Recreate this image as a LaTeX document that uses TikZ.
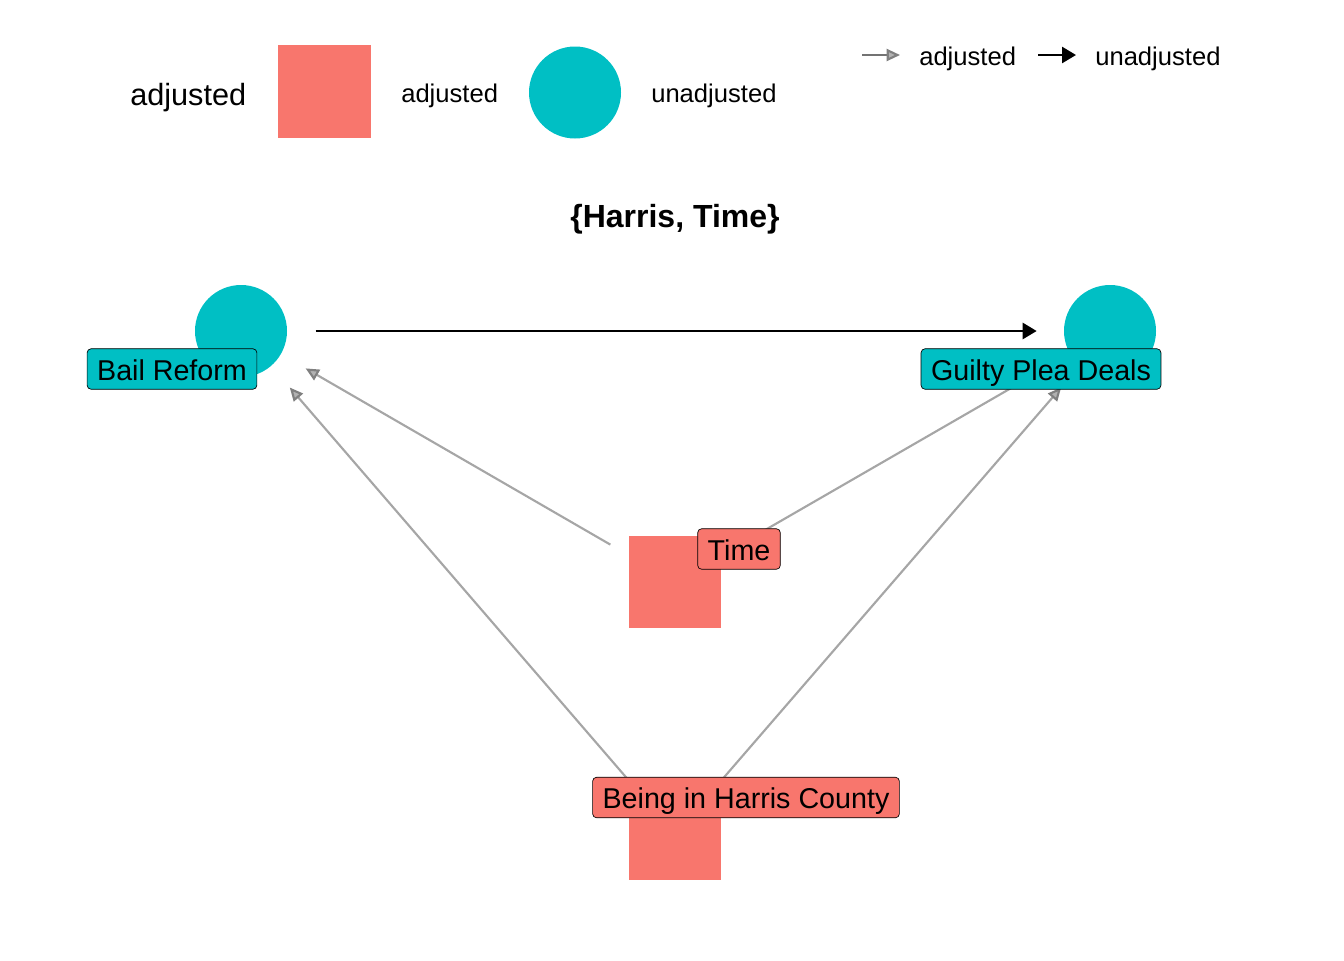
\documentclass[tikz,border=0pt]{standalone}
\usepackage{fontspec}
\setmainfont{Liberation Sans}
\usetikzlibrary{arrows.meta, positioning}
\definecolor{adjcol}{HTML}{F8766D}
\definecolor{unadjcol}{HTML}{00BFC4}

\begin{document}
\begin{tikzpicture}[x=0.75pt, y=-0.75pt,
    sqnode/.style={fill=adjcol, minimum size=69.5pt, inner sep=0pt},
    cirnode/.style={circle, fill=unadjcol, minimum size=69pt, inner sep=0pt},
    lbl/.style={draw=black, line width=0.5pt, rounded corners=3pt, inner xsep=7.5pt,
        text height=16.9pt, text depth=0pt, inner ysep=6.75pt,
        font=\fontsize{21.5}{24}\selectfont},
    legtext/.style={anchor=base west, inner sep=0pt, font=\fontsize{19.2}{22}\selectfont},
    adjedge/.style={draw=black!35, line width=1.6pt,
        -{Triangle[length=10pt, width=9pt, color=black!50, fill=black!30]},
        shorten <=56pt, shorten >=56pt},
    unadjedge/.style={draw=black, line width=2pt, -{Triangle[length=10.5pt, width=12pt]},
        shorten <=56pt, shorten >=55pt},
]
\useasboundingbox (0,0) rectangle (1344,960);

% legend
\node[anchor=base west, inner sep=0pt, font=\fontsize{23}{26}\selectfont] (legtitle) at (130,105) {adjusted};
\node[sqnode] (legsq) at (324.5,91.5) {};
\node[legtext] (legsqtext) at (401,102.5) {adjusted};
\node[cirnode] (legcir) at (575,92.5) {};
\node[legtext] (legcirtext) at (651,102.5) {unadjusted};
\coordinate (lega1) at (862,55);
\coordinate (lega2) at (900,55);
\coordinate (legu1) at (1038,55);
\coordinate (legu2) at (1076,55);
\draw[adjedge, draw=black!55, shorten <=0pt, shorten >=0pt] (lega1) -- (lega2);
\node[legtext] (legatext) at (919,65) {adjusted};
\draw[unadjedge, shorten <=0pt, shorten >=0pt] (legu1) -- (legu2);
\node[legtext] (legutext) at (1095,65) {unadjusted};

\node[font=\fontsize{24}{28}\selectfont\bfseries] (title) at (675,219) {\{Harris, Time\}};

% dag
\node[cirnode] (br) at (241,331) {};
\node[cirnode] (gpd) at (1110,331) {};
\node[sqnode] (time) at (675,582) {};
\node[sqnode] (hc) at (675,834) {};

\draw[unadjedge] (br.center) -- (gpd.center);
\draw[adjedge] (time.center) -- (br.center);
\draw[adjedge] (time.center) -- (gpd.center);
\draw[adjedge] (hc.center) -- (br.center);
\draw[adjedge] (hc.center) -- (gpd.center);

\node[lbl, fill=unadjcol] (brlab) at (172,369) {Bail Reform};
\node[lbl, fill=unadjcol] (gpdlab) at (1041,369) {Guilty Plea Deals};
\node[lbl, fill=adjcol] (timelab) at (739,549) {Time};
\node[lbl, fill=adjcol] (hclab) at (746,797.5) {Being in Harris County};
\end{tikzpicture}
\end{document}
